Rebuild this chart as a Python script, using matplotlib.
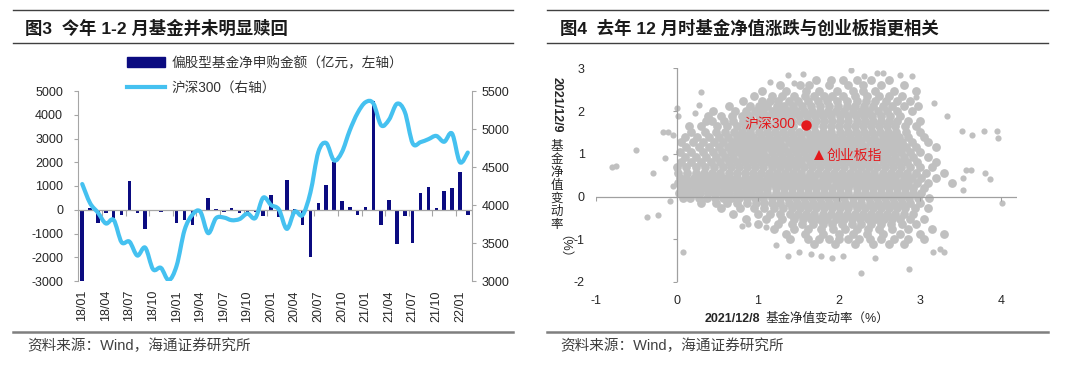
import matplotlib.pyplot as plt
import numpy as np
from matplotlib.path import Path
from matplotlib.patches import PathPatch, Patch
from matplotlib.lines import Line2D

plt.rcParams['font.family'] = ['Liberation Sans', 'Noto Sans CJK SC']
plt.rcParams['axes.unicode_minus'] = False

# ---------------- data: left chart (monthly, 2018/01 - 2022/02) ----------------
months = [f'{y}/{m:02d}' for y in range(18, 23) for m in range(1, 13)][:50]
tick_months = ['18/01', '18/04', '18/07', '18/10', '19/01', '19/04', '19/07', '19/10',
               '20/01', '20/04', '20/07', '20/10', '21/01', '21/04', '21/07', '21/10', '22/01']
# 偏股型基金净申购金额 (亿元)
net_subscription = [-3000, 80, -550, -150, -350, -200, 1230, -130, -800, -30,
                    -100, -30, -550, -450, -650, -30, 480, 20, -80, 60,
                    -120, -80, -80, -280, 620, -320, 1250, 50, -650, -1980,
                    300, 1050, 2000, 360, 100, -200, 100, 4600, -650, 390,
                    -1460, -280, -1380, 700, 950, 70, 810, 900, 1580, -240]
# 沪深300
csi300 = [4276, 4024, 3899, 3757, 3803, 3510, 3518, 3335, 3439, 3154,
          3173, 3011, 3202, 3669, 3872, 3913, 3630, 3826, 3835, 3800,
          3815, 3887, 3829, 4097, 3999, 3940, 3686, 3913, 3867, 4164,
          4695, 4816, 4587, 4695, 4981, 5211, 5352, 5337, 5048, 5124,
          5332, 5224, 4811, 4827, 4866, 4909, 4832, 4940, 4564, 4690]

# ---------------- data: right chart (fund NAV change, %) ----------------
scatter_rows = [
    (2.72, [1.72, 1.90, 2.05, 2.22, 2.40, 2.62]),
    (2.60, [1.28, 1.52, 1.63, 1.88, 2.12, 2.30, 2.52, 2.80]),
    (2.48, [1.05, 1.35, 1.60, 1.76, 1.98, 2.18, 2.30, 2.45, 2.68, 2.95]),
    (2.36, [0.95, 1.18, 1.30, 1.45, 1.58, 1.70, 1.82, 1.92, 2.05, 2.20, 2.35, 2.50, 2.62, 2.78]),
    (2.24, [0.82, 1.05, 1.15, 1.25, 1.38, 1.50, 1.62, 1.74, 1.86, 1.98, 2.10, 2.22, 2.34, 2.45,
            2.58, 2.72, 2.88]),
    (2.12, [0.65, 0.90, 1.02, 1.12, 1.24, 1.33, 1.44, 1.55, 1.66, 1.77, 1.88, 1.99, 2.10, 2.20,
            2.31, 2.42, 2.55, 2.66, 2.80, 2.98]),
    (2.00, [0.45, 0.72, 0.85, 0.97, 1.07, 1.17, 1.27, 1.37, 1.47, 1.57, 1.67, 1.77, 1.87, 1.97,
            2.07, 2.17, 2.27, 2.37, 2.48, 2.60, 2.72, 2.90]),
    (1.88, [0.38, 0.55, 0.68, 0.80, 0.91, 1.01, 1.11, 1.21, 1.31, 1.41, 1.51, 1.61, 1.71, 1.81,
            1.91, 2.01, 2.11, 2.21, 2.31, 2.41, 2.52, 2.63, 2.76]),
    (1.76, [0.36, 0.44, 0.58, 0.70, 0.82, 0.92, 1.02, 1.12, 1.22, 1.32, 1.42, 1.52, 1.62, 1.72,
            1.82, 1.92, 2.02, 2.12, 2.22, 2.32, 2.42, 2.52, 2.62, 2.72, 2.85, 3.00]),
    (1.64, [0.15, 0.30, 0.50, 0.62, 0.74, 0.84, 0.94, 1.04, 1.14, 1.24, 1.34, 1.44, 1.70, 1.80,
            1.90, 2.00, 2.10, 2.20, 2.30, 2.40, 2.50, 2.60, 2.70, 2.82, 2.95]),
    (1.52, [0.18, 0.35, 0.48, 0.60, 0.71, 0.81, 0.91, 1.01, 1.11, 1.21, 1.31, 1.41, 1.51, 1.61,
            1.71, 1.81, 1.91, 2.01, 2.11, 2.21, 2.31, 2.41, 2.51, 2.61, 2.71, 2.83, 3.00]),
    (1.40, [0.10, 0.25, 0.40, 0.52, 0.63, 0.74, 0.84, 0.94, 1.04, 1.14, 1.24, 1.34, 1.44, 1.54,
            1.64, 1.74, 1.84, 1.94, 2.04, 2.14, 2.24, 2.34, 2.44, 2.54, 2.64, 2.74, 2.86, 3.05]),
    (1.28, [0.05, 0.20, 0.33, 0.46, 0.57, 0.68, 0.78, 0.88, 0.98, 1.08, 1.18, 1.28, 1.38, 1.48,
            1.58, 1.68, 1.78, 1.88, 1.98, 2.08, 2.18, 2.28, 2.38, 2.48, 2.58, 2.68, 2.78, 2.90, 3.10]),
    (1.16, [0.12, 0.28, 0.40, 0.52, 0.63, 0.73, 0.83, 0.93, 1.03, 1.13, 1.23, 1.33, 1.43, 1.53,
            1.63, 1.73, 1.83, 1.93, 2.03, 2.13, 2.23, 2.33, 2.43, 2.53, 2.63, 2.73, 2.83, 2.95, 3.20]),
    (1.04, [0.04, 0.18, 0.32, 0.45, 0.56, 0.67, 0.77, 0.87, 0.97, 1.07, 1.17, 1.27, 1.37, 1.47,
            1.57, 1.67, 1.77, 1.87, 1.97, 2.07, 2.17, 2.27, 2.37, 2.47, 2.57, 2.67, 2.77, 2.88, 3.00]),
    (0.92, [0.10, 0.24, 0.36, 0.48, 0.59, 0.70, 0.80, 0.90, 1.00, 1.10, 1.20, 1.30, 1.40, 1.50,
            1.60, 1.70, 1.80, 1.90, 2.00, 2.10, 2.20, 2.30, 2.40, 2.50, 2.60, 2.70, 2.80, 2.92, 3.10]),
    (0.80, [0.05, 0.18, 0.30, 0.42, 0.53, 0.64, 0.74, 0.84, 0.94, 1.04, 1.14, 1.24, 1.34, 1.44,
            1.54, 1.64, 1.74, 1.84, 1.94, 2.04, 2.14, 2.24, 2.34, 2.44, 2.54, 2.64, 2.74, 2.84,
            2.96, 3.20]),
    (0.68, [0.00, 0.12, 0.24, 0.35, 0.46, 0.57, 0.67, 0.77, 0.87, 0.97, 1.07, 1.17, 1.27, 1.37,
            1.47, 1.57, 1.67, 1.77, 1.87, 1.97, 2.07, 2.17, 2.27, 2.37, 2.47, 2.57, 2.67, 2.77,
            2.88, 3.00, 3.15]),
    (0.56, [0.02, 0.13, 0.24, 0.34, 0.44, 0.54, 0.64, 0.74, 0.84, 0.94, 1.04, 1.14, 1.24, 1.34,
            1.44, 1.54, 1.64, 1.74, 1.84, 1.94, 2.04, 2.14, 2.24, 2.34, 2.44, 2.54, 2.64, 2.74,
            2.84, 2.95, 3.08, 3.30]),
    (0.44, [0.04, 0.12, 0.21, 0.30, 0.39, 0.48, 0.57, 0.66, 0.75, 0.84, 0.93, 1.02, 1.11, 1.20,
            1.30, 1.40, 1.50, 1.60, 1.70, 1.80, 1.90, 2.00, 2.10, 2.20, 2.30, 2.40, 2.50, 2.60,
            2.70, 2.80, 2.90, 3.02, 3.20]),
    (0.32, [0.02, 0.10, 0.18, 0.27, 0.36, 0.45, 0.54, 0.63, 0.72, 0.81, 0.90, 0.99, 1.08, 1.17,
            1.26, 1.36, 1.46, 1.56, 1.66, 1.76, 1.86, 1.96, 2.06, 2.16, 2.26, 2.36, 2.46, 2.56,
            2.66, 2.76, 2.86, 2.97, 3.10, 3.40]),
    (0.20, [0.05, 0.13, 0.22, 0.31, 0.40, 0.49, 0.58, 0.67, 0.76, 0.85, 0.94, 1.03, 1.12, 1.22,
            1.32, 1.42, 1.52, 1.62, 1.72, 1.82, 1.92, 2.02, 2.12, 2.22, 2.32, 2.42, 2.52, 2.62,
            2.72, 2.82, 2.92, 3.05]),
    (0.08, [0.03, 0.11, 0.20, 0.29, 0.38, 0.47, 0.56, 0.65, 0.74, 0.83, 0.92, 1.02, 1.12, 1.22,
            1.32, 1.42, 1.52, 1.62, 1.72, 1.82, 1.92, 2.02, 2.12, 2.22, 2.32, 2.42, 2.52, 2.62,
            2.72, 2.82, 2.92, 3.02]),
    (-0.04, [0.08, 0.17, 0.27, 0.37, 0.47, 0.57, 0.67, 0.77, 0.87, 0.97, 1.07, 1.17, 1.27, 1.37,
             1.47, 1.57, 1.67, 1.77, 1.87, 1.97, 2.07, 2.17, 2.27, 2.37, 2.47, 2.57, 2.67, 2.77,
             2.87, 2.98, 3.12]),
    (-0.16, [0.30, 0.48, 0.62, 0.75, 0.87, 0.98, 1.08, 1.18, 1.28, 1.38, 1.48, 1.58, 1.68, 1.78,
             1.88, 1.98, 2.08, 2.18, 2.28, 2.38, 2.48, 2.58, 2.68, 2.78, 2.88, 3.00]),
    (-0.28, [0.55, 0.78, 0.95, 1.08, 1.20, 1.31, 1.42, 1.52, 1.62, 1.72, 1.82, 1.92, 2.02, 2.12,
             2.22, 2.32, 2.42, 2.52, 2.62, 2.72, 2.82, 2.94, 3.10]),
    (-0.40, [0.70, 1.00, 1.15, 1.28, 1.40, 1.50, 1.60, 1.70, 1.80, 1.90, 2.00, 2.10, 2.20, 2.30,
             2.40, 2.50, 2.60, 2.70, 2.80, 2.92]),
    (-0.52, [0.85, 1.10, 1.30, 1.45, 1.56, 1.66, 1.76, 1.86, 1.96, 2.06, 2.16, 2.26, 2.36, 2.46,
             2.56, 2.66, 2.76, 2.88, 3.05]),
    (-0.64, [1.00, 1.25, 1.42, 1.55, 1.68, 1.80, 1.92, 2.04, 2.16, 2.28, 2.40, 2.52, 2.64, 2.78, 2.95]),
    (-0.76, [1.20, 1.45, 1.62, 1.78, 1.93, 2.08, 2.22, 2.36, 2.50, 2.66, 2.85, 3.15]),
    (-0.88, [1.35, 1.58, 1.80, 2.00, 2.18, 2.35, 2.55, 2.75, 3.00, 3.30]),
    (-1.00, [1.40, 1.62, 1.75, 1.88, 2.00, 2.12, 2.25, 2.38, 2.52, 2.68, 2.85, 3.05]),
    (-1.12, [1.70, 1.95, 2.20, 2.42, 2.62, 2.80]),
]
outlier_x = [-0.80, -0.75, -0.50, -0.29, -0.15, -0.17, -0.11, -0.05, 0.00, 0.02, 0.00, -0.04,
             -0.08, -0.37, -0.23, 0.30, 0.28, 0.22, 1.15, 1.37, 1.56, 1.45, 2.15, 2.31, 2.47,
             2.55, 2.75, 2.90, 2.95, 3.18, 3.34, 3.52, 3.65, 3.79, 3.95, 3.96, 3.57, 3.63, 3.81,
             3.87, 3.53, 3.53, 4.02, 0.08, 0.80, 0.88, 1.10, 1.23, 1.37, 1.51, 1.66, 1.78, 1.92,
             2.05, 2.27, 2.45, 2.87, 3.16, 3.30, 3.25]
outlier_y = [0.70, 0.72, 1.09, 0.55, 0.90, 1.52, 1.52, 1.45, 2.07, 1.88, 0.65, 0.25,
             -0.10, -0.47, -0.43, 2.44, 2.15, 1.95, 2.69, 2.84, 2.87, 2.65, 2.97, 2.81, 2.89,
             2.89, 2.84, 2.81, 2.34, 2.19, 1.88, 1.53, 1.45, 1.53, 1.53, 1.38, 0.62, 0.61, 0.55,
             0.40, 0.44, 0.16, -0.16, -1.29, -0.69, -0.65, -0.71, -1.13, -1.40, -1.29, -1.35, -1.40, -1.45,
             -1.40, -1.79, -1.43, -1.69, -1.30, -1.30, -1.22]
index_names = ['沪深300', '创业板指']
index_x = [1.60, 1.76]
index_y = [1.68, 0.98]

core_x = [x for y, xs in scatter_rows for x in xs]
core_y = [y for y, xs in scatter_rows for x in xs]

# ---------------- figure ----------------
W, H = 1080, 368
fig = plt.figure(figsize=(W / 100, H / 100), dpi=100)


def fx(px):
    return px / W


def fy(py):
    return 1 - py / H


axis_grey = '#a6a6a6'
text_col = '#262626'
bar_col = '#0b0b80'
line_col = '#45c1f0'

# frame lines, titles and sources
for x0, x1 in [(13, 513), (547, 1048)]:
    fig.add_artist(Line2D([fx(x0), fx(x1)], [fy(10), fy(10)], color='#404040', lw=1.0))
    fig.add_artist(Line2D([fx(x0), fx(x1)], [fy(43), fy(43)], color='#404040', lw=1.0))
    fig.add_artist(Line2D([fx(x0), fx(x1)], [fy(332), fy(332)], color='#7f7f7f', lw=1.8))
fig.text(fx(25), fy(28), '图3  今年 1-2 月基金并未明显赎回', fontsize=12.5, fontweight='bold',
         va='center', color='#1a1a1a')
fig.text(fx(560), fy(28), '图4  去年 12 月时基金净值涨跌与创业板指更相关', fontsize=12.5,
         fontweight='bold', va='center', color='#1a1a1a')
for x0 in [27, 560]:
    fig.text(fx(x0), fy(346), '资料来源：Wind，海通证券研究所', fontsize=10.5, va='center',
             color='#404040')

# ---------------- left chart ----------------
ax = fig.add_axes([fx(78.3), fy(281), fx(471.7) - fx(78.3), fy(91) - fy(281)])
pos = np.arange(len(months))
ax.bar(pos, net_subscription, width=0.45, color=bar_col, zorder=2)
ax.set_xlim(-0.5, len(months) - 0.5)
ax.set_ylim(-3000, 5000)
ax.set_yticks(range(-3000, 5001, 1000))
tick_pos = [months.index(m) for m in tick_months]
ax.set_xticks(tick_pos, tick_months, rotation=90)
ax.tick_params(axis='x', length=0, pad=6.5, labelsize=9, labelcolor=text_col)
ax.tick_params(axis='y', length=3, width=0.8, color=axis_grey, pad=8, labelsize=9,
               labelcolor=text_col)
for s in ['top', 'bottom', 'right']:
    ax.spines[s].set_visible(False)
ax.spines['left'].set_color(axis_grey)
ax.axhline(0, color=axis_grey, lw=0.9, zorder=3)
ax.plot([p - 0.5 for p in tick_pos] + [len(months) - 0.5], [0] * (len(tick_pos) + 1),
        ls='none', marker=3, ms=4, mew=0.8, color=axis_grey, zorder=3)

ax2 = ax.twinx()
ax2.set_ylim(3000, 5500)
ax2.set_yticks(range(3000, 5501, 500))
ax2.tick_params(axis='y', length=3, width=0.8, color=axis_grey, pad=4, labelsize=9,
                labelcolor=text_col)
for s in ['top', 'bottom', 'left']:
    ax2.spines[s].set_visible(False)
ax2.spines['right'].set_color(axis_grey)

# smoothed line through the monthly values (Catmull-Rom as cubic Bezier)
pts = np.column_stack([pos, csi300]).astype(float)
ext = np.vstack([pts[0], pts, pts[-1]])
verts, codes = [pts[0]], [Path.MOVETO]
for i in range(len(pts) - 1):
    p0, p1, p2, p3 = ext[i], ext[i + 1], ext[i + 2], ext[i + 3]
    verts += [p1 + (p2 - p0) / 6, p2 - (p3 - p1) / 6, p2]
    codes += [Path.CURVE4] * 3
ax2.add_patch(PathPatch(Path(verts, codes), fill=False, edgecolor=line_col, lw=3,
                        capstyle='round', joinstyle='round', zorder=4))

handles = [Patch(color=bar_col), Line2D([], [], color=line_col, lw=3)]
leg = fig.legend(handles, ['偏股型基金净申购金额（亿元，左轴）', '沪深300（右轴）'],
                 loc='upper left', bbox_to_anchor=(fx(127), fy(56)), frameon=False,
                 fontsize=9.8, handlelength=2.8, handleheight=0.7, handletextpad=0.45,
                 labelspacing=0.8, borderpad=0, borderaxespad=0)
for t in leg.get_texts():
    t.set_color('#333333')

# ---------------- right chart ----------------
axr = fig.add_axes([fx(595.7), fy(282), fx(1017) - fx(595.7), fy(68.3) - fy(282)])
axr.scatter(core_x, core_y, s=40, color='#c0c0c0', linewidths=0, zorder=2)
axr.scatter(outlier_x, outlier_y, s=20, color='#c0c0c0', linewidths=0, zorder=2)
axr.set_xlim(-1, 4.2)
axr.set_ylim(-2, 3)
xt = [-1, 0, 1, 2, 3, 4]
yt = [-2, -1, 0, 1, 2, 3]
axr.set_xticks(xt)
axr.set_yticks(yt)
axr.tick_params(axis='x', length=0, pad=9, labelsize=9, labelcolor=text_col)
axr.tick_params(axis='y', length=0, pad=8, labelsize=9, labelcolor=text_col)
for s in axr.spines.values():
    s.set_visible(False)
axr.axhline(0, color='#a0a0a0', lw=0.9, zorder=3)
axr.axvline(0, color='#a0a0a0', lw=0.9, zorder=3)
axr.plot(xt, [0] * len(xt), ls='none', marker=3, ms=3, mew=0.8, color='#a0a0a0', zorder=3)
axr.plot([0] * len(yt), yt, ls='none', marker=0, ms=3, mew=0.8, color='#a0a0a0', zorder=3)

red = '#e3191c'
axr.plot(index_x[0], index_y[0], 'o', ms=7.5, color=red, mew=0, zorder=5)
axr.plot(index_x[1], index_y[1], '^', ms=6.5, color=red, mew=0, zorder=5)
axr.annotate(index_names[0], (index_x[0], index_y[0]), xytext=(-8, 0),
             textcoords='offset points', ha='right', va='center', color=red, fontsize=10,
             zorder=6)
axr.annotate(index_names[1], (index_x[1], index_y[1]), xytext=(5, -1),
             textcoords='offset points', ha='left', va='center', color=red, fontsize=10,
             zorder=6)

# axis titles
fig.text(fx(760), fy(319), '2021/12/8', ha='right', va='center', fontsize=9,
         fontweight='bold', color=text_col)
fig.text(fx(765), fy(319), '基金净值变动率（%）', ha='left', va='center', fontsize=9,
         color=text_col)
fig.text(fx(557), fy(105), '2021/12/9', rotation=-90, ha='center', va='center', fontsize=9,
         fontweight='bold', color=text_col)
fig.text(fx(557), fy(141), '\n'.join('基金净值变动率'), ha='center', va='top', fontsize=9,
         linespacing=1.1, color=text_col)
fig.text(fx(557), fy(253), '（%）', rotation=-90, ha='center', va='center', fontsize=9,
         color=text_col)

fig.savefig('out.png', dpi=100)
